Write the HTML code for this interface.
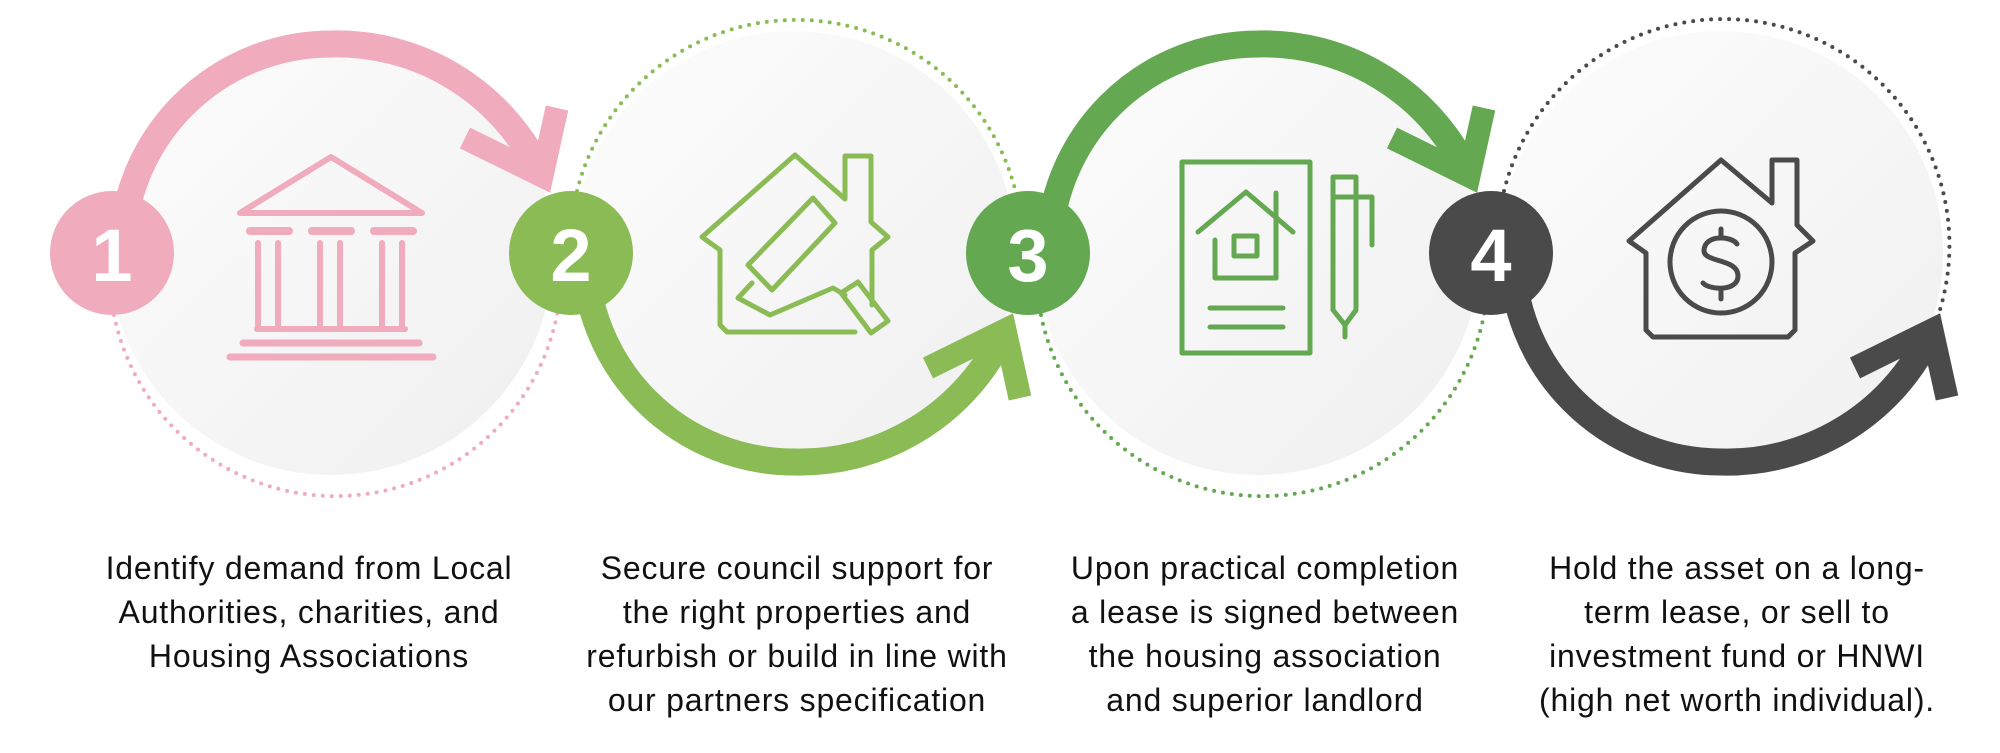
<!DOCTYPE html>
<html><head><meta charset="utf-8"><style>
html,body{margin:0;padding:0;background:#fff;}
body{width:2000px;height:753px;overflow:hidden;position:relative;font-family:"Liberation Sans",sans-serif;}
svg{position:absolute;left:0;top:0;}
.t{position:absolute;top:546px;width:520px;text-align:center;font-size:32px;letter-spacing:0.8px;line-height:44px;color:#111;}
</style></head><body>
<svg width="2000" height="753" viewBox="0 0 2000 753" xmlns="http://www.w3.org/2000/svg">
<defs>
<linearGradient id="g" x1="0" y1="0" x2="1" y2="1">
<stop offset="0" stop-color="#fdfdfd"/><stop offset="1" stop-color="#efefef"/>
</linearGradient>
</defs>
<circle cx="331" cy="253" r="222" fill="url(#g)"/>
<circle cx="794" cy="253" r="222" fill="url(#g)"/>
<circle cx="1258" cy="253" r="222" fill="url(#g)"/>
<circle cx="1721" cy="253" r="222" fill="url(#g)"/>
<g fill="none" stroke-width="4" stroke-linecap="round" stroke-dasharray="0 9">
<path d="M 114 315 A 226 226 0 1 0 549 196" stroke="#F0ABBD"/>
<path d="M 577 191 A 226 226 0 1 1 1006 330" stroke="#8ABB55"/>
<path d="M 1041 315 A 226 226 0 1 0 1476 196" stroke="#64A851"/>
<path d="M 1504 191 A 226 226 0 1 1 1937 319" stroke="#4A4A4A"/>
</g>
<g fill="none" stroke-width="27">
<path d="M 122 253 A 209 209 0 0 1 331 44 A 225 225 0 0 1 537 166" stroke="#F0ABBD"/>
<path d="M 585 253 A 209 209 0 0 0 794 462 A 225 225 0 0 0 1000 340" stroke="#8ABB55"/>
<path d="M 1049 253 A 209 209 0 0 1 1258 44 A 225 225 0 0 1 1464 166" stroke="#64A851"/>
<path d="M 1512 253 A 209 209 0 0 0 1721 462 A 225 225 0 0 0 1927 340" stroke="#4A4A4A"/>
</g>
<g fill="none" stroke-width="23" stroke-linejoin="miter" stroke-miterlimit="10">
<polyline points="465,138 542,176 557,108" stroke="#F0ABBD"/>
<polyline points="928,368 1005,330 1020,398" stroke="#8ABB55"/>
<polyline points="1392,138 1469,176 1484,108" stroke="#64A851"/>
<polyline points="1855,368 1932,330 1947,398" stroke="#4A4A4A"/>
</g>
<circle cx="112" cy="253" r="62" fill="#F0ABBD"/>
<circle cx="571" cy="253" r="62" fill="#8ABB55"/>
<circle cx="1028" cy="253" r="62" fill="#64A851"/>
<circle cx="1491" cy="253" r="62" fill="#4A4A4A"/>
<g fill="#fff" font-family="Liberation Sans, sans-serif" font-weight="bold" font-size="74" text-anchor="middle">
<text x="112" y="281">1</text>
<text x="571" y="281">2</text>
<text x="1028" y="281">3</text>
<text x="1491" y="281">4</text>
</g>
<g fill="none" stroke="#F0ABBD" stroke-width="6" stroke-linecap="round" stroke-linejoin="round">
<polygon points="331,157 240,213 422,213"/>
<line x1="250" y1="231" x2="289" y2="231" stroke-width="8"/>
<line x1="312" y1="231" x2="351" y2="231" stroke-width="8"/>
<line x1="374" y1="231" x2="413" y2="231" stroke-width="8"/>
<line x1="258" y1="243" x2="258" y2="326"/><line x1="278" y1="243" x2="278" y2="326"/>
<line x1="320" y1="243" x2="320" y2="326"/><line x1="340" y1="243" x2="340" y2="326"/>
<line x1="382" y1="243" x2="382" y2="326"/><line x1="402" y1="243" x2="402" y2="326"/>
<line x1="257" y1="329" x2="405" y2="329"/>
<line x1="243" y1="343" x2="419" y2="343" stroke-width="7"/>
<line x1="230" y1="357" x2="433" y2="357" stroke-width="7"/>
</g>
<g fill="none" stroke="#8ABB55" stroke-width="5" stroke-linecap="round" stroke-linejoin="round">
<polyline points="720,250 702,237 795,155 845,199 845,156 871,156 871,222 888,237 872,250 872,305"/>
<polyline points="720,250 720,325 727,332 855,332"/>
<polygon points="813,198 835,223 772,290 748,265"/>
<polyline points="752,283 738,298 770,315 833,288 845,295"/>
<polygon points="841,293 858,282 888,321 871,333"/>
</g>
<g fill="none" stroke="#64A851" stroke-width="5" stroke-linecap="round" stroke-linejoin="round">
<rect x="1182" y="162" width="128" height="191"/>
<polyline points="1198,232 1246,192 1293,232"/>
<line x1="1276" y1="193" x2="1276" y2="278"/>
<polyline points="1215,240 1215,278 1276,278"/>
<rect x="1234" y="236" width="23" height="20"/>
<line x1="1210" y1="308" x2="1283" y2="308"/>
<line x1="1210" y1="327" x2="1283" y2="327"/>
<path d="M1333,177 L1356,177 L1356,310 L1345,325 L1333,310 Z"/>
<polyline points="1333,197 1372,197 1372,245"/>
<line x1="1345" y1="325" x2="1345" y2="337"/>
</g>
<g fill="none" stroke="#4A4A4A" stroke-width="5" stroke-linecap="round" stroke-linejoin="round">
<polyline points="1646,253 1629,241 1721,160 1772,203 1772,160 1797,160 1797,225 1813,241 1795,253 1795,330 1788,337 1653,337 1646,330 1646,253"/>
<circle cx="1721" cy="262" r="51"/>
<path d="M1737,244 C1732,236 1705,234 1704,250 C1703,263 1738,258 1738,276 C1738,292 1709,290 1703,283"/>
<line x1="1721" y1="229" x2="1721" y2="238"/>
<line x1="1721" y1="289" x2="1721" y2="299"/>
</g>
</svg>
<div class="t" style="left:49px">Identify demand from Local<br>Authorities, charities, and<br>Housing Associations</div>
<div class="t" style="left:537px">Secure council support for<br>the right properties and<br>refurbish or build in line with<br>our partners specification</div>
<div class="t" style="left:1005px">Upon practical completion<br>a lease is signed between<br>the housing association<br>and superior landlord</div>
<div class="t" style="left:1477px">Hold the asset on a long-<br>term lease, or sell to<br>investment fund or HNWI<br>(high net worth individual).</div>
</body></html>
